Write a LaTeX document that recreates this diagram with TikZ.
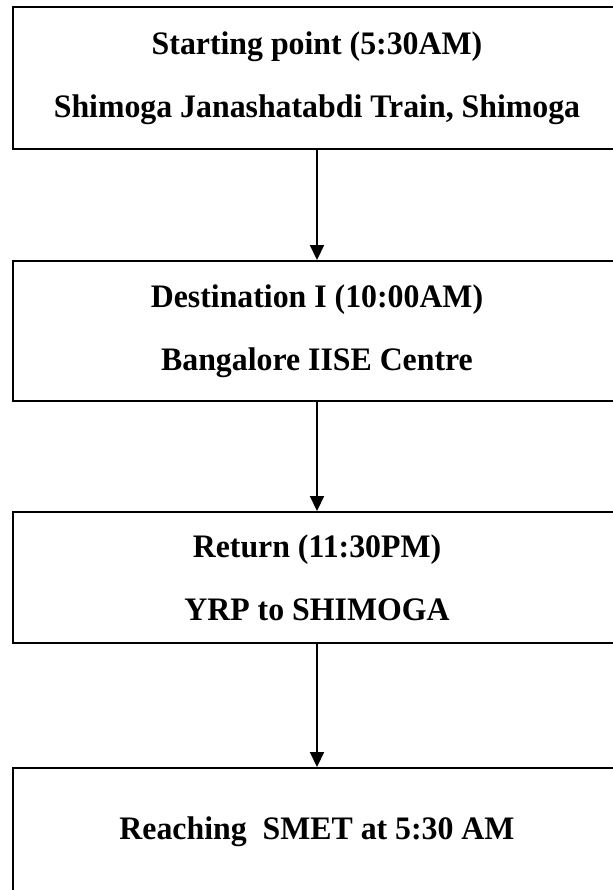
\documentclass[tikz,border=0pt]{standalone}
\usepackage{fontspec}
\setmainfont[FakeStretch=0.97]{Liberation Serif}
\usetikzlibrary{arrows.meta,positioning}

\begin{document}
\begin{tikzpicture}[x=0.03cm,y=-0.03cm,
        every node/.style={font=\bfseries\fontsize{28}{32}\selectfont},
        stage/.style={draw=black,line width=1.6pt,minimum width=18.24cm,align=center,inner sep=0pt},
        flow/.style={draw=black,line width=1.4pt,-{Triangle[length=4.5mm,width=4.2mm]}}]
    \useasboundingbox (0,0) rectangle (613,890);
    \node[stage,minimum height=4.26cm] (start) at (317,78) {Starting point (5:30AM)\\[22pt]Shimoga Janashatabdi Train, Shimoga};
    \node[stage,minimum height=4.2cm] (dest) at (317,331) {Destination I (10:00AM)\\[22pt]Bangalore IISE Centre};
    \node[stage,minimum height=3.93cm] (ret) at (317,577.5) {Return (11:30PM)\\[22pt]YRP to SHIMOGA};
    \node[stage,minimum height=3.81cm] (reach) at (317,831.5) {Reaching\ \ SMET at 5:30 AM};
    \draw[flow] (start.south) -- (dest.north);
    \draw[flow] (dest.south) -- (ret.north);
    \draw[flow] (ret.south) -- (reach.north);
\end{tikzpicture}
\end{document}
